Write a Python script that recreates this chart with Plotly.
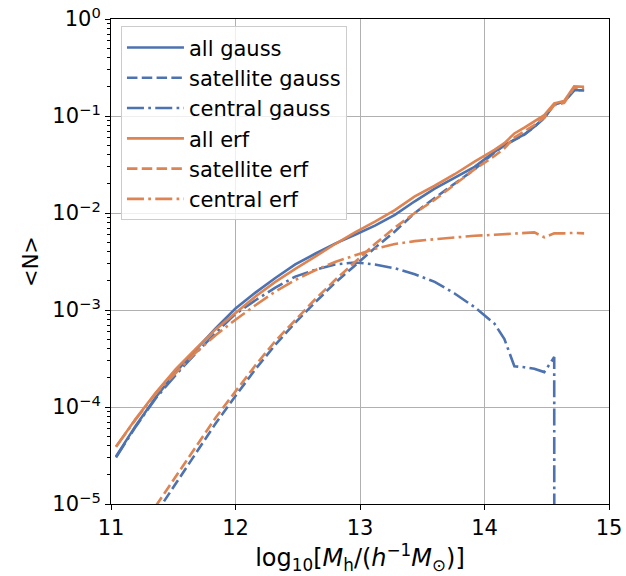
import plotly.graph_objects as go

# log10 halo mass bin centres
log_mass = [11.04, 11.20, 11.36, 11.52, 11.68, 11.84, 12.00, 12.16, 12.32, 12.48,
            12.64, 12.80, 12.96, 13.12, 13.28, 13.44, 13.60, 13.76, 13.92, 14.08,
            14.16, 14.24, 14.32, 14.40, 14.48, 14.56, 14.64, 14.72, 14.80]

all_gauss = [3.09e-5, 6.46e-5, 1.26e-4, 2.29e-4, 3.89e-4, 6.46e-4, 1.035e-3, 1.51e-3, 2.14e-3, 2.95e-3,
             3.80e-3, 4.84e-3, 5.96e-3, 7.41e-3, 9.55e-3, 1.32e-2, 1.78e-2, 2.32e-2, 2.99e-2, 4.27e-2,
             5.01e-2, 5.69e-2, 6.46e-2, 7.76e-2, 9.55e-2, 0.132, 0.141, 0.184, 0.184]

sat_gauss = [None, None, 7.94e-6, 1.62e-5, 3.24e-5, 6.76e-5, 1.30e-4, 2.45e-4, 4.37e-4, 7.41e-4,
             1.20e-3, 1.91e-3, 2.88e-3, 4.37e-3, 6.46e-3, 1.00e-2, 1.43e-2, 2.02e-2, 2.82e-2, 4.20e-2,
             4.96e-2, 5.66e-2, 6.43e-2, 7.73e-2, 9.53e-2, 0.1317, 0.141, 0.184, 0.184]

cen_gauss = [3.02e-5, 6.31e-5, 1.23e-4, 2.14e-4, 3.57e-4, 5.78e-4, 9.12e-4, 1.26e-3, 1.70e-3, 2.21e-3,
             2.60e-3, 2.95e-3, 3.09e-3, 2.95e-3, 2.69e-3, 2.34e-3, 1.95e-3, 1.48e-3, 1.07e-3, 7.24e-4,
             5.01e-4, 2.63e-4, 2.57e-4, 2.48e-4, 2.29e-4, 3.27e-4, 0.0, 0.0, 0.0]

all_erf = [3.89e-5, 7.59e-5, 1.41e-4, 2.45e-4, 3.98e-4, 6.31e-4, 9.33e-4, 1.38e-3, 1.95e-3, 2.66e-3,
           3.55e-3, 4.79e-3, 6.31e-3, 8.13e-3, 1.07e-2, 1.48e-2, 1.91e-2, 2.51e-2, 3.39e-2, 4.47e-2,
           5.25e-2, 6.61e-2, 7.59e-2, 8.71e-2, 0.102, 0.135, 0.143, 0.202, 0.200]

sat_erf = [None, None, 9.55e-6, 1.91e-5, 3.80e-5, 7.76e-5, 1.45e-4, 2.69e-4, 4.79e-4, 7.94e-4,
           1.29e-3, 2.04e-3, 3.16e-3, 4.79e-3, 7.08e-3, 1.00e-2, 1.37e-2, 1.95e-2, 2.82e-2, 3.87e-2,
           4.65e-2, 6.00e-2, 6.97e-2, 8.08e-2, 9.64e-2, 0.129, 0.137, 0.196, 0.194]

cen_erf = [3.89e-5, 7.50e-5, 1.38e-4, 2.26e-4, 3.63e-4, 5.50e-4, 7.94e-4, 1.12e-3, 1.55e-3, 2.04e-3,
           2.57e-3, 3.13e-3, 3.63e-3, 4.27e-3, 4.79e-3, 5.13e-3, 5.37e-3, 5.62e-3, 5.82e-3, 5.96e-3,
           6.03e-3, 6.10e-3, 6.17e-3, 6.31e-3, 5.62e-3, 6.17e-3, 6.17e-3, 6.24e-3, 6.17e-3]

series_names = ["all gauss", "satellite gauss", "central gauss", "all erf", "satellite erf", "central erf"]

ytick_vals = [1e-5, 1e-4, 1e-3, 1e-2, 1e-1, 1e0]
ytick_text = ["10<sup>\u22125</sup>", "10<sup>\u22124</sup>", "10<sup>\u22123</sup>",
              "10<sup>\u22122</sup>", "10<sup>\u22121</sup>", "10<sup>0</sup>"]
ytick_minor_mantissas = [2, 3, 4, 5, 6, 7, 8, 9]
xtick_vals = [11, 12, 13, 14, 15]
xtick_text = ["11", "12", "13", "14", "15"]

minor_vals = [m * d for d in ytick_vals[:-1] for m in ytick_minor_mantissas]

BLUE = "#4c72b0"
ORANGE = "#dd8452"
LW = 2.6
DASH = "10.5px,4.3px"
DASHDOT = "17px,4.3px,2.7px,4.3px"


def clip(vals):
    # emulate matplotlib's log-scale clipping of non-positive values
    return [None if v is None else (v if v > 0 else 1e-300) for v in vals]


fig = go.Figure()
specs = [
    (all_gauss, BLUE, "solid"),
    (sat_gauss, BLUE, DASH),
    (cen_gauss, BLUE, DASHDOT),
    (all_erf, ORANGE, "solid"),
    (sat_erf, ORANGE, DASH),
    (cen_erf, ORANGE, DASHDOT),
]
for name, (vals, col, dash) in zip(series_names, specs):
    fig.add_trace(go.Scatter(
        x=log_mass, y=clip(vals), mode="lines", name=name,
        line=dict(color=col, width=LW, dash=dash),
        connectgaps=False,
    ))

# invisible helper trace that carries the overlaid minor-tick axis
fig.add_trace(go.Scatter(
    x=log_mass, y=all_gauss, yaxis="y2", mode="lines",
    line=dict(width=0, color="rgba(0,0,0,0)"), showlegend=False, hoverinfo="skip",
))

FONT = "DejaVu Sans"
FS = 21

fig.update_layout(
    width=626, height=576,
    margin=dict(l=111, r=17, t=19, b=72, autoexpand=False),
    paper_bgcolor="white", plot_bgcolor="white",
    font=dict(family=FONT, size=FS, color="black"),
    showlegend=True,
    legend=dict(
        x=0.02, y=0.985, xanchor="left", yanchor="top",
        bgcolor="rgba(255,255,255,0.8)", bordercolor="#cccccc", borderwidth=1,
        font=dict(family=FONT, size=FS, color="black"),
        tracegroupgap=0, itemwidth=57,
    ),
    xaxis=dict(
        range=[11, 15], tickvals=xtick_vals, ticktext=xtick_text,
        showgrid=True, gridcolor="#b0b0b0", gridwidth=1.1,
        showline=True, linecolor="black", linewidth=1.1, mirror=True,
        ticks="outside", ticklen=5, tickwidth=1.1, tickcolor="black",
        zeroline=False, automargin=False,
        title=dict(text="log<sub>10</sub>[<i>M</i><sub>h</sub>/(<i>h</i><sup>\u22121</sup><i>M</i><sub>\u2299</sub>)]",
                   font=dict(family=FONT, size=24), standoff=3),
    ),
    yaxis=dict(
        type="log", range=[-5, 0], tickvals=ytick_vals, ticktext=ytick_text,
        showgrid=True, gridcolor="#b0b0b0", gridwidth=1.1,
        showline=True, linecolor="black", linewidth=1.1, mirror=True,
        ticks="outside", ticklen=5, tickwidth=1.1, tickcolor="black",
        zeroline=False, automargin=False,
        title=dict(text="&lt;N&gt;", font=dict(family=FONT, size=FS), standoff=8),
    ),
    yaxis2=dict(
        type="log", range=[-5, 0], overlaying="y", side="left", anchor="x",
        tickmode="array", tickvals=minor_vals, showticklabels=False,
        ticks="outside", ticklen=3.5, tickwidth=1, tickcolor="black",
        showgrid=False, showline=False, zeroline=False, automargin=False,
    ),
)

fig.write_html("out.html", config={"displayModeBar": False},
               post_script="document.body.style.margin='0px';")
